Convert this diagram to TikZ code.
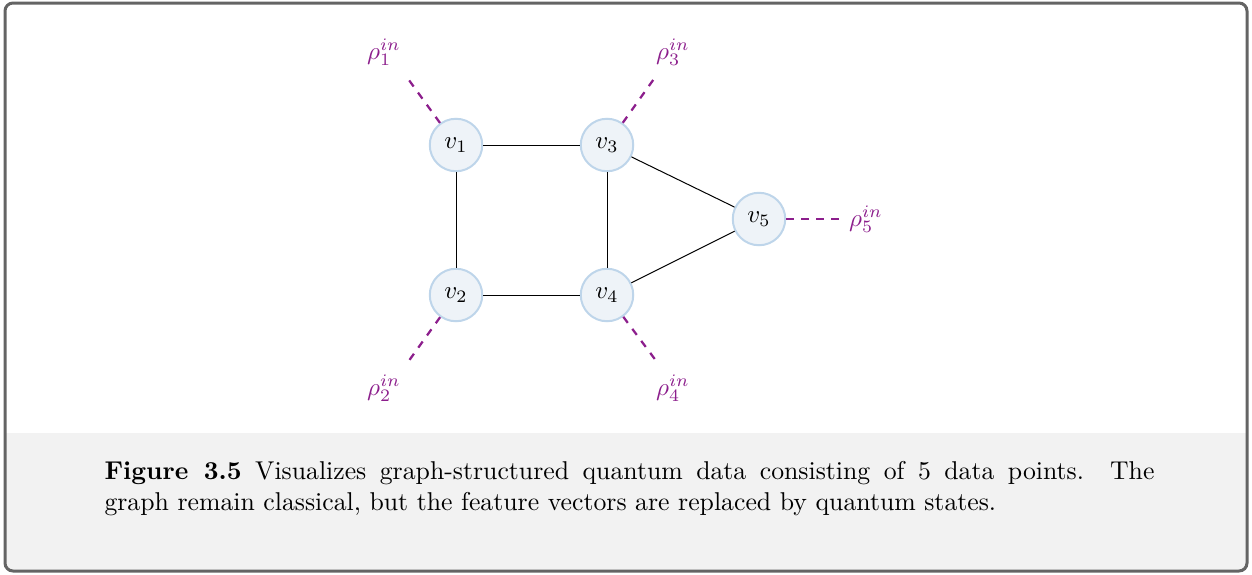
\documentclass[tikz,border=0pt]{standalone}
\definecolor{qpurple}{RGB}{140,30,140}
\definecolor{nodefill}{RGB}{238,243,248}
\definecolor{nodedraw}{RGB}{190,213,234}
\definecolor{capfill}{RGB}{242,242,242}
\definecolor{framegray}{RGB}{100,100,100}
\begin{document}
\begin{tikzpicture}[x=0.4pt,y=-0.4pt,
  vert/.style={circle,fill=nodefill,draw=nodedraw,line width=0.8pt,minimum size=21pt,inner sep=0pt},
  edge/.style={draw=black,line width=0.4pt},
  qline/.style={draw=qpurple,line width=0.9pt,dash pattern=on 3pt off 3pt},
  qlabel/.style={text=qpurple,inner sep=0pt}]
\useasboundingbox (0,0) rectangle (1252,574);
% caption background
\begin{scope}
\clip[rounded corners=3.2pt] (5,3) rectangle (1247,571);
\fill[capfill] (5,433) rectangle (1247,571);
\end{scope}
\draw[framegray,line width=1.2pt,rounded corners=3.2pt] (5,3) rectangle (1247,571);
% vertices
\node[vert] (v1) at (456,145) {$v_1$};
\node[vert] (v3) at (607,145) {$v_3$};
\node[vert] (v5) at (759,219) {$v_5$};
\node[vert] (v2) at (456,295) {$v_2$};
\node[vert] (v4) at (607,295) {$v_4$};
% edges
\draw[edge] (v1) -- (v3);
\draw[edge] (v1) -- (v2);
\draw[edge] (v2) -- (v4);
\draw[edge] (v3) -- (v4);
\draw[edge] (v3) -- (v5);
\draw[edge] (v4) -- (v5);
% quantum inputs
\node[qlabel] (r1) at (384,52) {$\rho_1^{in}$};
\node[qlabel] (r3) at (673,52) {$\rho_3^{in}$};
\node[qlabel] (r2) at (384,388) {$\rho_2^{in}$};
\node[qlabel] (r4) at (673,388) {$\rho_4^{in}$};
\node[qlabel] (r5) at (866,219) {$\rho_5^{in}$};
\coordinate (e1) at (406,76);
\coordinate (e3) at (656,76);
\coordinate (e2) at (408,362);
\coordinate (e4) at (657,362);
\coordinate (e5) at (842,219);
\draw[qline] (v1) -- (e1);
\draw[qline] (v3) -- (e3);
\draw[qline] (v2) -- (e2);
\draw[qline] (v4) -- (e4);
\draw[qline] (v5) -- (e5);
% caption
\node[anchor=north west,inner sep=0pt,text width=420pt,align=justify,font=\fontsize{10.3}{12.4}\selectfont] (cap) at (104,461)
{\textbf{Figure 3.5} Visualizes graph-structured quantum data consisting of 5 data points.  The\linebreak graph remain classical, but the feature vectors are replaced by quantum states.};
\end{tikzpicture}
\end{document}
